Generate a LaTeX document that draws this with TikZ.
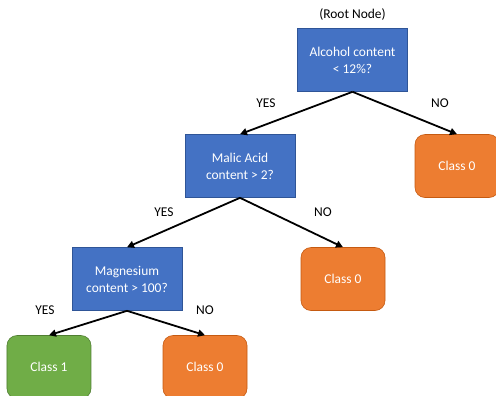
\documentclass[tikz,border=0pt]{standalone}
\usepackage{fontspec}
\setmainfont{Carlito}
\usepackage{tikz}
\usetikzlibrary{positioning,arrows.meta}

\definecolor{qblue}{HTML}{4472C4}
\definecolor{qblueline}{HTML}{2F5597}
\definecolor{leaforange}{HTML}{ED7D31}
\definecolor{leaforangeline}{HTML}{C55A11}
\definecolor{leafgreen}{HTML}{70AD47}
\definecolor{leafgreenline}{HTML}{507E32}

\tikzset{
  question/.style={draw=qblueline, line width=0.6bp, fill=qblue, text=white,
    minimum width=110bp, minimum height=63bp, align=center,
    font=\fontsize{13.5}{17}\selectfont},
  leaf/.style={draw=#1line, line width=0.6bp, fill=#1, text=white, rounded corners=10bp,
    minimum width=84bp, minimum height=63bp, align=center,
    font=\fontsize{13.5}{17}\selectfont},
  answer/.style={font=\fontsize{13.5}{17}\selectfont},
  branch/.style={-{Triangle[length=7bp,width=7bp]}, line width=1.8bp}
}

\begin{document}
\begin{tikzpicture}[x=1bp, y=1bp, node distance=106bp]
\useasboundingbox (0,0) rectangle (496,-395);
\node[question] (alcohol) at (352.5,-60) {Alcohol content\\< 12\%?};
\node[answer, above of=alcohol, yshift=-61bp] (rootlabel) {(Root Node)};
\node[question, below of=alcohol, xshift=-112.5bp] (malic) {Malic Acid\\content > 2?};
\node[leaf=leaforange, below of=alcohol, xshift=104.5bp] (classA) {Class 0};
\node[question, below of=malic, yshift=-7bp, xshift=-113bp] (magnesium) {Magnesium\\content > 100?};
\node[leaf=leaforange, below of=malic, yshift=-7bp, xshift=103bp] (classB) {Class 0};
\node[leaf=leafgreen, below of=magnesium, yshift=18bp, xshift=-78bp] (classC) {Class 1};
\node[leaf=leaforange, below of=magnesium, yshift=18bp, xshift=78bp] (classD) {Class 0};

% yes / no labels
\node[answer] (yesA) at (266,-103) {YES};
\node[answer] (noA) at (440,-103) {NO};
\node[answer] (yesB) at (164,-212) {YES};
\node[answer] (noB) at (323,-212) {NO};
\node[answer] (yesC) at (45,-310) {YES};
\node[answer] (noC) at (205,-310) {NO};

\draw[branch] (alcohol.south) -- (malic.north);
\draw[branch] (alcohol.south) -- (classA.north);
\draw[branch] (malic.south) -- (magnesium.north);
\draw[branch] (malic.south) -- (classB.north);
\draw[branch] (magnesium.south) -- (classC.north);
\draw[branch] (magnesium.south) -- (classD.north);
\end{tikzpicture}
\end{document}
